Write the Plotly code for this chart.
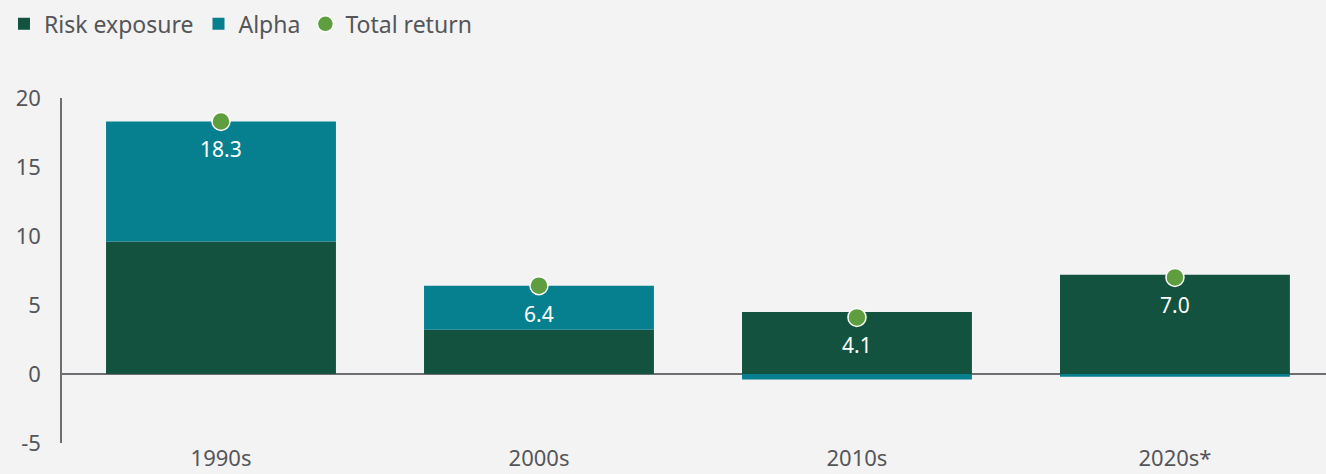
import plotly.graph_objects as go

decades = ["1990s", "2000s", "2010s", "2020s*"]
risk_exposure = [9.6, 3.2, 4.5, 7.2]
alpha = [8.7, 3.2, -0.4, -0.2]
total_return = [18.3, 6.4, 4.1, 7.0]
y_ticks = [-5, 0, 5, 10, 15, 20]

font_family = "Noto Sans"
grey = "#555559"

fig = go.Figure()
fig.add_trace(go.Bar(x=decades, y=risk_exposure, name="Risk exposure",
                     marker=dict(color="#12523E", line=dict(width=0))))
fig.add_trace(go.Bar(x=decades, y=alpha, name="Alpha",
                     marker=dict(color="#067F8F", line=dict(width=0))))
fig.add_trace(go.Scatter(x=decades, y=total_return, name="Total return", mode="markers",
                         marker=dict(color="#5E9E3E", size=18,
                                     line=dict(color="white", width=1.5))))

# value labels sit just under each dot
for d, t in zip(decades, total_return):
    fig.add_annotation(x=d, y=t, text=f"{t:.1f}", showarrow=False, yshift=-28,
                       font=dict(color="white", size=21, family=font_family))

fig.update_layout(
    width=1326, height=474,
    barmode="relative", bargap=0.277,
    paper_bgcolor="#F3F3F3", plot_bgcolor="#F3F3F3",
    margin=dict(l=62, r=0, t=98, b=31, autoexpand=False),
    font=dict(family=font_family, color=grey, size=22),
    legend=dict(orientation="h", x=0.003, xanchor="left", y=0.995, yanchor="top",
                xref="container", yref="container", font=dict(size=23),
                itemwidth=30, traceorder="normal", bgcolor="rgba(0,0,0,0)"),
    showlegend=True,
    xaxis=dict(range=[-0.5, 3.475], showgrid=False, showline=False, zeroline=False,
               ticks="", automargin=False, ticklabelstandoff=0,
               tickfont=dict(size=22, color=grey)),
    yaxis=dict(range=[-5, 20], tickmode="array", tickvals=y_ticks,
               ticktext=[str(v) for v in y_ticks], automargin=False,
               showgrid=False, zeroline=True, zerolinecolor="#6E6E72", zerolinewidth=1.5,
               showline=True, linecolor="#6E6E72", linewidth=1.5, ticks="",
               ticklabelstandoff=15, tickfont=dict(size=22, color=grey)),
)

fig.write_html("out.html", config={"displayModeBar": False},
               post_script="document.body.style.margin='0';document.body.style.overflow='hidden';")
